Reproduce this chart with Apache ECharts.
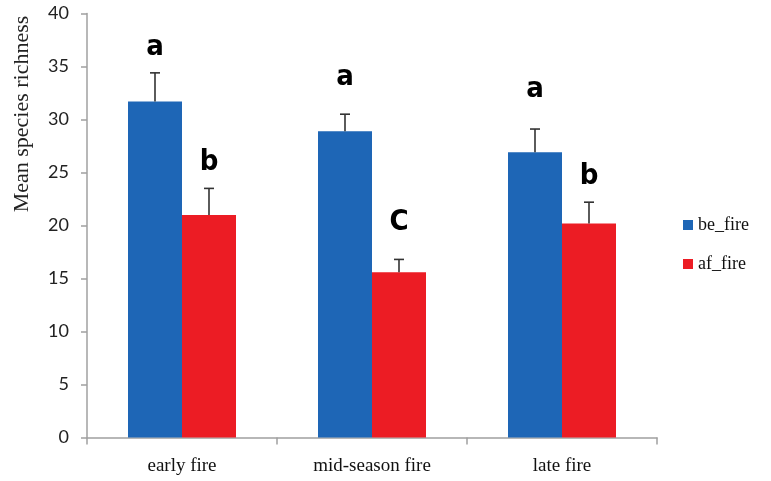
<!DOCTYPE html>
<html>
<head>
<meta charset="utf-8">
<script src="https://cdn.jsdelivr.net/npm/echarts@6/dist/echarts.min.js"></script>
<style>
  html, body { margin: 0; padding: 0; background: #fff; }
  #chart { width: 771px; height: 481px; }
</style>
</head>
<body>
<div id="chart"></div>
<script>
// 数据
var categories = ['early fire', 'mid-season fire', 'late fire'];
var beFire = [31.7, 28.9, 26.9];
var afFire = [21.0, 15.6, 20.2];
var beErr = [2.7, 1.6, 2.2];
var afErr = [2.5, 1.2, 2.0];
// significance letters and where they sit (in data units)
var beLetters = ['a', 'a', 'a'];
var afLetters = ['b', 'C', 'b'];
var beLetterY = [36.8, 34.0, 32.8];
var afLetterY = [25.9, 20.3, 24.6];
var yTicks = [0, 5, 10, 15, 20, 25, 30, 35, 40];

var BAR_W = 54;

var chart = echarts.init(document.getElementById('chart'));

// error bar + letter for one series
function errRender(vals, errs, letters, letterY, side) {
  return function (params, api) {
    var i = api.value(0);
    var base = api.coord([i, vals[i]]);
    var top = api.coord([i, vals[i] + errs[i]]);
    var lab = api.coord([i, letterY[i]]);
    var x = base[0] + side * BAR_W / 2;
    var st = { stroke: '#333', lineWidth: 1.6 };
    return {
      type: 'group',
      children: [
        { type: 'line', shape: { x1: x, y1: base[1], x2: x, y2: top[1] }, style: st },
        { type: 'line', shape: { x1: x - 5, y1: top[1], x2: x + 5, y2: top[1] }, style: st },
        {
          type: 'text',
          x: x, y: lab[1],
          style: {
            text: letters[i], align: 'center', verticalAlign: 'middle',
            font: 'bold 29px "DejaVu Sans Condensed", "DejaVu Sans", sans-serif',
            fill: '#000'
          }
        }
      ]
    };
  };
}

var idx = categories.map(function (c, i) { return [i]; });

chart.setOption({
  backgroundColor: '#fff',
  animation: false,
  grid: { left: 87, right: 114, top: 13.5, bottom: 43.5 },
  legend: {
    orient: 'vertical',
    left: 678,
    top: 211,
    itemWidth: 10,
    itemHeight: 10,
    itemGap: 21,
    itemTextGap: 5,
    icon: 'rect',
    textStyle: { fontFamily: '"Liberation Serif", serif', fontSize: 18, color: '#111' },
    data: ['be_fire', 'af_fire']
  },
  graphic: [{
    type: 'text',
    x: 22, y: 114,
    rotation: Math.PI / 2,
    style: {
      text: 'Mean species richness',
      align: 'center', verticalAlign: 'middle',
      font: '22px "Liberation Serif", serif',
      fill: '#222'
    }
  }],
  xAxis: {
    type: 'category',
    data: categories,
    axisLine: { lineStyle: { color: '#a0a0a0', width: 1.5 } },
    axisTick: { show: true, length: 7, lineStyle: { color: '#a0a0a0', width: 1.5 } },
    axisLabel: { margin: 19, fontFamily: '"Liberation Serif", serif', fontSize: 19, color: '#111' }
  },
  yAxis: {
    type: 'value',
    min: 0, max: 40, interval: 5,
    splitLine: { show: false },
    axisLine: { show: true, lineStyle: { color: '#a0a0a0', width: 1.5 } },
    axisTick: { show: true, length: 6, lineStyle: { color: '#a0a0a0', width: 1.5 } },
    axisLabel: {
      margin: 18, fontFamily: 'Lato, sans-serif', fontSize: 18, color: '#222',
      formatter: function (v) { return yTicks.indexOf(v) >= 0 ? String(v) : ''; }
    }
  },
  series: [
    {
      name: 'be_fire', type: 'bar', data: beFire,
      barWidth: BAR_W, barGap: '0%',
      itemStyle: { color: '#1e66b6' }
    },
    {
      name: 'af_fire', type: 'bar', data: afFire,
      barWidth: BAR_W, barGap: '0%',
      itemStyle: { color: '#ec1c24' }
    },
    {
      type: 'custom', data: idx, z: 5,
      renderItem: errRender(beFire, beErr, beLetters, beLetterY, -1)
    },
    {
      type: 'custom', data: idx, z: 5,
      renderItem: errRender(afFire, afErr, afLetters, afLetterY, 1)
    }
  ]
});
</script>
</body>
</html>
